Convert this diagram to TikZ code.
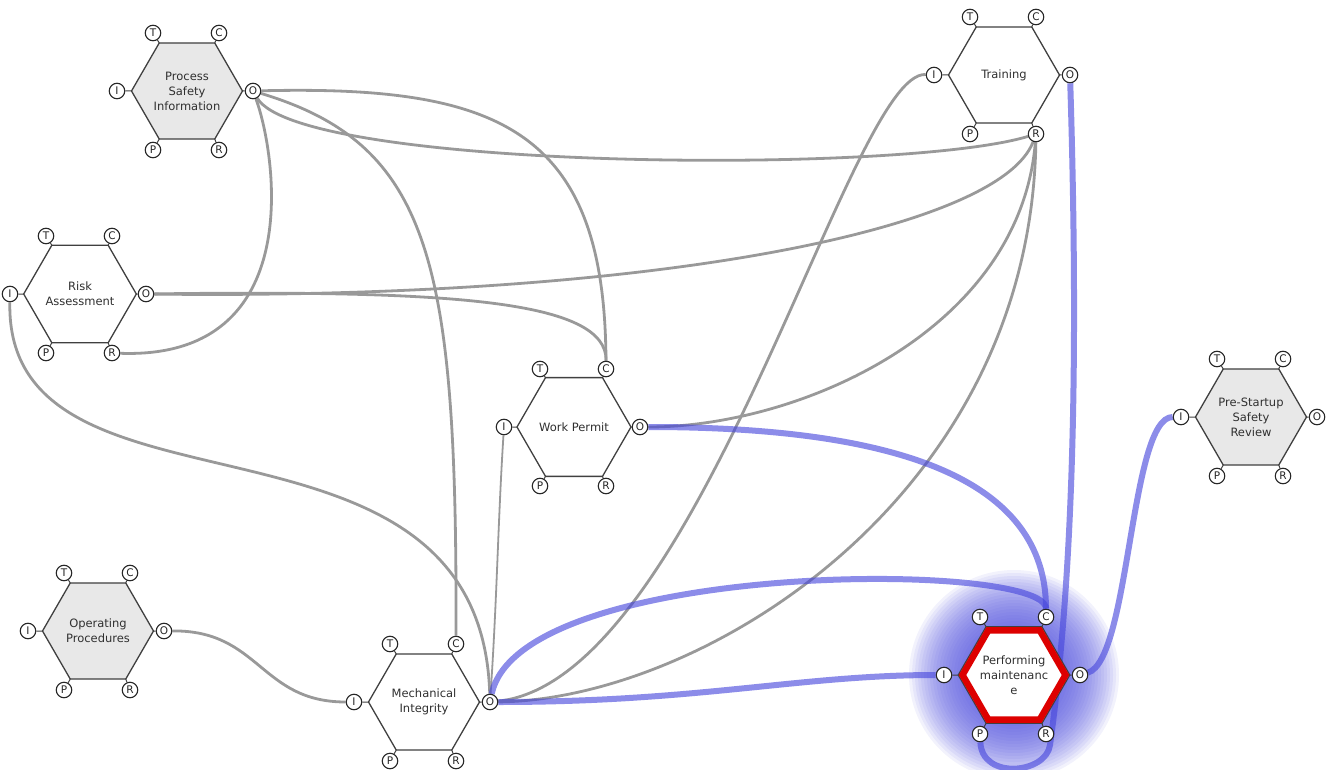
\documentclass[tikz,border=0pt]{standalone}
\usepackage{fontspec}
\setmainfont{DejaVu Sans}
\usetikzlibrary{shapes.geometric}
\definecolor{hexline}{HTML}{404040}
\definecolor{hexgray}{HTML}{E8E8E8}
\definecolor{edgegray}{HTML}{999999}
\definecolor{edgeblue}{RGB}{70,70,220}
\definecolor{glowblue}{RGB}{85,85,222}
\definecolor{pmred}{HTML}{DD0000}
\definecolor{txt}{HTML}{303030}
\pgfdeclarelayer{glowlayer}
\pgfdeclarelayer{edgelayer}
\pgfsetlayers{glowlayer,edgelayer,main}
\tikzset{
  hexa/.style={regular polygon, regular polygon sides=6, minimum size=111pt, inner sep=0pt, outer sep=0pt,
    draw=hexline, line width=1.3pt, fill=white, align=center, font=\fontsize{11.5}{15}\selectfont, text=txt},
  port/.style={circle, draw=black!85, line width=1.1pt, fill=white, inner sep=0pt, minimum size=15.5pt,
    font=\fontsize{10.5}{10.5}\selectfont, text=black!85},
  portlink/.style={draw=hexline, line width=1pt},
  gline/.style={draw=edgegray, line width=2.8pt},
  gthin/.style={draw=edgegray, line width=1.8pt},
  bline/.style={draw=edgeblue, line width=6pt, draw opacity=0.62},
  glowring/.style={fill=glowblue, fill opacity=0.08},
  pmring/.style={regular polygon, regular polygon sides=6, minimum size=103pt, inner sep=0pt, outer sep=0pt,
    draw=pmred, line width=6.5pt}
}
\newcommand{\framfun}[5]{%
  \node[hexa,#4] (#1) at (#2,#3) {#5};
  \node[port] (#1T) at (#2-34,#3-58) {T};
  \node[port] (#1C) at (#2+32,#3-58) {C};
  \node[port] (#1I) at (#2-70,#3) {I};
  \node[port] (#1O) at (#2+66,#3) {O};
  \node[port] (#1P) at (#2-34,#3+59) {P};
  \node[port] (#1R) at (#2+32,#3+59) {R};
  \draw[portlink] (#1T) -- (#1.120);
  \draw[portlink] (#1C) -- (#1.60);
  \draw[portlink] (#1I) -- (#1.180);
  \draw[portlink] (#1O) -- (#1.0);
  \draw[portlink] (#1P) -- (#1.240);
  \draw[portlink] (#1R) -- (#1.300);
}
\begin{document}
\begin{tikzpicture}[x=1pt,y=-1pt]
\useasboundingbox (0,0) rectangle (1338,770);

% functions
\framfun{psi}{187}{91}{fill=hexgray}{Process\\Safety\\Information}
\framfun{ra}{80}{294}{}{Risk\\Assessment}
\framfun{wp}{574}{427}{}{Work Permit}
\framfun{tr}{1004}{75}{}{Training}
\framfun{ps}{1251}{417}{fill=hexgray}{Pre-Startup\\Safety\\Review}
\framfun{op}{98}{631}{fill=hexgray}{Operating\\Procedures}
\framfun{mi}{424}{702}{}{Mechanical\\Integrity}
\framfun{pm}{1014}{675}{}{Performing\\maintenanc\\e}
\node[pmring] (pmborder) at (pm) {};

% glow
\begin{pgfonlayer}{glowlayer}
  \foreach \r in {42,45,...,105} {
    \fill[glowring] (pm) circle (\r pt);
  }
\end{pgfonlayer}

% connectors
\begin{pgfonlayer}{edgelayer}
  \draw[gline] (psiO) .. controls (300,170) and (900,175) .. (trR);
  \draw[gline] (psiO) .. controls (500,85) and (605,130) .. (wpC);
  \draw[gline] (psiO) .. controls (432,145) and (457,263) .. (miC);
  \draw[gline] (psiO) .. controls (275,150) and (310,360) .. (raR);
  \draw[gline] (raO) .. controls (650,300) and (1000,230) .. (trR);
  \draw[gline] (raO) .. controls (450,290) and (607,300) .. (wpC);
  \draw[gline] (raI) .. controls (5,540) and (480,380) .. (miO);
  \draw[gthin] (wpI) .. controls (498,520) and (497,600) .. (miO);
  \draw[gline] (opO) .. controls (260,630) and (260,702) .. (miI);
  \draw[gline] (trI) .. controls (850,70) and (700,680) .. (miO);
  \draw[gline] (trR) .. controls (1030,500) and (700,700) .. (miO);
  \draw[gline] (trR) .. controls (1020,330) and (800,427) .. (wpO);

  \draw[bline] (wpO) .. controls (900,427) and (1046,480) .. (pmC);
  \draw[bline] (miO) .. controls (520,560) and (1046,560) .. (pmC);
  \draw[bline] (miO) .. controls (700,702) and (800,675) .. (pmI);
  \draw[bline] (trO) .. controls (1080,400) and (1070,600) .. (1050,745)
                     .. controls (1046,774) and (982,780) .. (pmP);
  \draw[bline] (pmO) .. controls (1130,660) and (1130,417) .. (psI);
\end{pgfonlayer}
\end{tikzpicture}
\end{document}
